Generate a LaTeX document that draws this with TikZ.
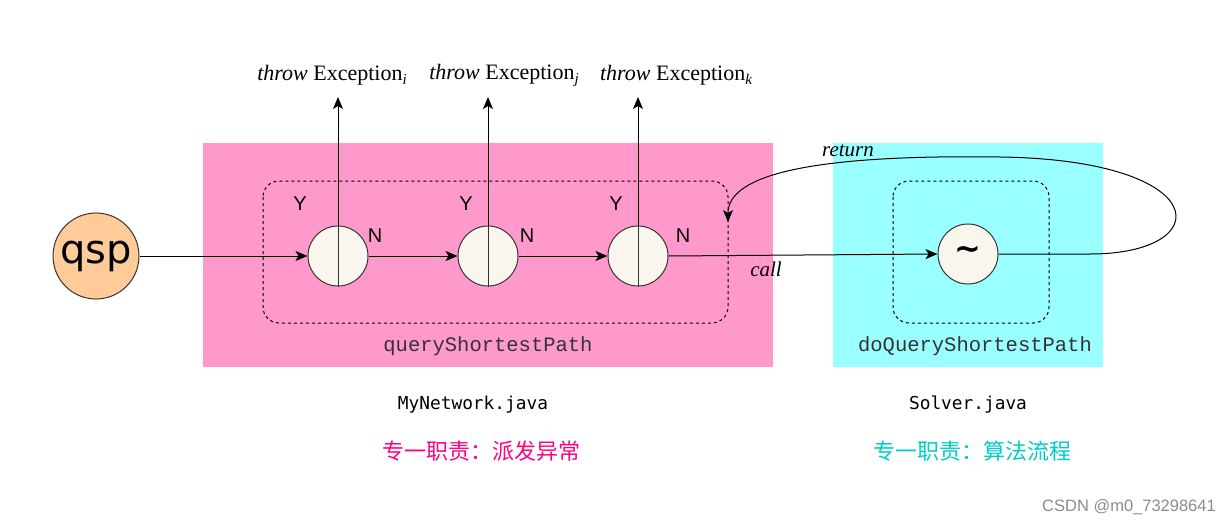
\documentclass[tikz,border=0pt]{standalone}
\usepackage{fontspec}
\setmainfont{Liberation Serif}
\newfontfamily\cjk{Noto Sans CJK SC}
\newfontfamily\lmono{Liberation Mono}
\newfontfamily\dmono{DejaVu Sans Mono}
\newfontfamily\lsans{Liberation Sans}
\newfontfamily\qspfont{DejaVu Sans}
\usetikzlibrary{arrows.meta}
\definecolor{pinkbg}{HTML}{FF99CC}
\definecolor{cyanbg}{HTML}{99FFFF}
\definecolor{qspfill}{HTML}{FFCC99}
\definecolor{nodefill}{HTML}{F9F7ED}
\definecolor{edge}{HTML}{333333}
\definecolor{pinktxt}{HTML}{FF0080}
\definecolor{cyantxt}{HTML}{00CCCC}
\newcommand{\exsub}[1]{\raisebox{-4pt}{\fontsize{15}{15}\selectfont\itshape #1}}
\begin{document}
\begin{tikzpicture}[x=1pt,y=-1pt,
  decisionnode/.style={circle,draw=edge,line width=1pt,fill=nodefill,minimum size=60pt,inner sep=0pt},
  flow/.style={line width=1pt,-{Stealth[length=12pt,width=10pt,inset=3pt]}},
  dashbox/.style={draw,dashed,line width=1pt,rounded corners=16pt},
  yn/.style={font=\lsans\fontsize{20}{20}\selectfont},
  throwlbl/.style={font=\fontsize{22}{22}\selectfont},
  itlbl/.style={font=\itshape\fontsize{21}{21}\selectfont},
  funclbl/.style={font=\lmono\fontsize{20.5}{20.5}\selectfont,text=edge},
  filelbl/.style={font=\dmono\fontsize{17.8}{17.8}\selectfont},
  dutylbl/.style={font=\cjk\fontsize{22}{22}\selectfont}
]
\useasboundingbox (0,0) rectangle (1232,525);
% backgrounds
\fill[pinkbg] (203,143) rectangle (773,367);
\fill[cyanbg] (833,143) rectangle (1103,367);
\draw[dashbox] (263,181) rectangle (728,323);
\draw[dashbox] (893,181) rectangle (1049,323);
% nodes
\node[circle,draw=edge,line width=1pt,fill=qspfill,minimum size=86pt,inner sep=0pt,font=\qspfont\fontsize{40}{40}\selectfont] (qsp) at (96,256) {qsp};
\node[decisionnode] (c1) at (338,256) {};
\node[decisionnode] (c2) at (488,256) {};
\node[decisionnode] (c3) at (638,256) {};
\node[decisionnode,font=\qspfont\bfseries\fontsize{32}{32}\selectfont] (sol) at (968,254) {\raisebox{2pt}{\char`\~}};
\foreach \c in {c1,c2,c3} \draw[edge,line width=1pt] (\c.north) -- (\c.south);
% throw targets
\coordinate (t1) at (338,97);
\coordinate (t2) at (488,97);
\coordinate (t3) at (638,97);
\draw[flow] (c1.north) -- (t1);
\draw[flow] (c2.north) -- (t2);
\draw[flow] (c3.north) -- (t3);
\node[throwlbl] (e1) at (332,75) {\textit{throw} Exception\exsub{i}};
\node[throwlbl] (e2) at (504,75) {\textit{throw} Exception\exsub{j}};
\node[throwlbl] (e3) at (676,75) {\textit{throw} Exception\exsub{k}};
% flow
\draw[flow] (qsp.east) -- (c1.west);
\draw[flow] (c1.east) -- (c2.west);
\draw[flow] (c2.east) -- (c3.west);
\draw[flow] (c3.east) -- (sol.west);
\coordinate (ret) at (728,222);
\draw[flow] (sol.east) -- (1090,254) .. controls (1218,254) and (1215,160) .. (1000,157) .. controls (790,154) and (728,180) .. (ret);
\node[itlbl] (calllbl) at (766,269) {call};
\node[itlbl] (retlbl) at (848,151) {return};
% Y/N
\node[yn] (y1) at (300,204) {Y};
\node[yn] (y2) at (466,204) {Y};
\node[yn] (y3) at (616,204) {Y};
\node[yn] (n1) at (375,236) {N};
\node[yn] (n2) at (527,236) {N};
\node[yn] (n3) at (683,236) {N};
% labels
\node[funclbl] (f1) at (488,346) {queryShortestPath};
\node[funclbl] (f2) at (975,346) {doQueryShortestPath};
\node[filelbl] (m1) at (473,405) {MyNetwork.java};
\node[filelbl] (m2) at (968,405) {Solver.java};
\node[dutylbl,text=pinktxt] (d1) at (481,451) {专一职责：派发异常};
\node[dutylbl,text=cyantxt] (d2) at (972,451) {专一职责：算法流程};
\node[font=\lsans\fontsize{16.5}{16.5}\selectfont,text=black!45] (wm) at (1129,507) {CSDN @m0\_73298641};
\end{tikzpicture}
\end{document}
